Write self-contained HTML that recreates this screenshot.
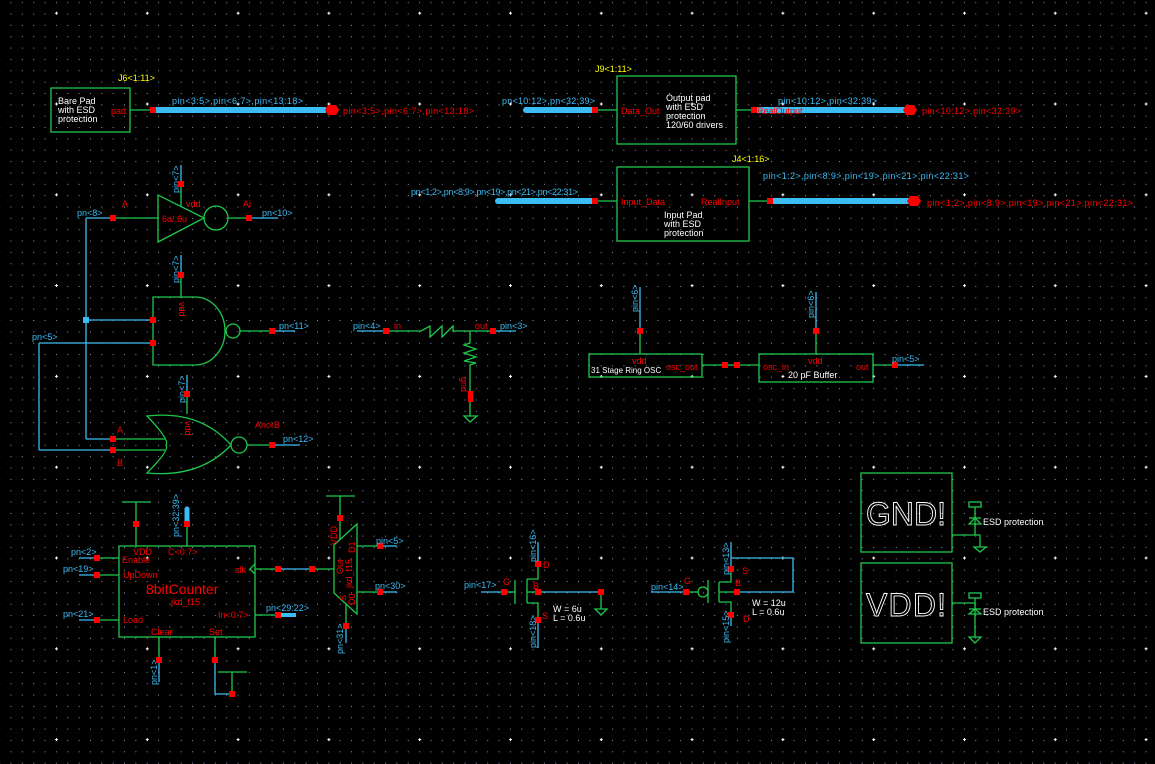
<!DOCTYPE html>
<html><head><meta charset="utf-8"><style>
html,body{margin:0;padding:0;background:#000;}
svg{display:block;}
text{font-family:"Liberation Sans",sans-serif;}
.b{fill:#3cbcf4}.r{fill:#ff0000}.w{fill:#fff}.y{fill:#ffff00}
.g{stroke:#1ec84c;fill:none;stroke-width:1.3}
.bl{stroke:#3cbcf4;fill:none;stroke-width:1.3}
.bus{stroke:#3cbcf4;stroke-width:6;fill:none}
</style></head><body>
<svg width="1155" height="764" viewBox="0 0 1155 764" font-size="9" xmlns="http://www.w3.org/2000/svg">
<defs>
<pattern id="dots" x="10.5" y="2.2" width="11.35" height="11.35" patternUnits="userSpaceOnUse">
<rect x="0" y="0" width="1" height="1" fill="#8a9ab4"/></pattern>
<pattern id="cross" x="55" y="102.5" width="90.8" height="90.8" patternUnits="userSpaceOnUse">
<path d="M0,1.5H3M1.5,0V3" stroke="#fff" stroke-width="1"/></pattern>
</defs>
<rect width="1155" height="764" fill="url(#dots)"/>
<rect width="1155" height="764" fill="url(#cross)"/>

<!-- Bare pad -->
<text class="y" x="118" y="81">J6&lt;1:11&gt;</text>
<rect class="g" x="51" y="88" width="79" height="44"/>
<text class="w" x="58" y="104">Bare Pad</text>
<text class="w" x="58" y="113">with ESD</text>
<text class="w" x="58" y="122">protection</text>
<text class="r" x="111" y="114">pad</text>
<line class="g" x1="130" y1="110" x2="153" y2="110"/>
<line class="bus" x1="155" y1="110" x2="326" y2="110"/>
<rect class="r" x="150" y="107" width="6" height="6"/>
<polygon points="325,110 328,105 336,105 339,110 336,115 328,115" fill="#f00"/>
<text class="b" x="172" y="104" textLength="131">pin&lt;3:5&gt;,pin&lt;6:7&gt;,pin&lt;13:18&gt;</text>
<text class="r" x="343" y="114" textLength="131">pin&lt;3:5&gt;,pin&lt;6:7&gt;,pin&lt;13:18&gt;</text>

<!-- Output pad -->
<text class="y" x="595" y="72">J9&lt;1:11&gt;</text>
<rect class="g" x="617" y="76" width="119" height="68"/>
<text class="w" x="666" y="101">Output pad</text>
<text class="w" x="666" y="110">with ESD</text>
<text class="w" x="666" y="119">protection</text>
<text class="w" x="666" y="128">120/60 drivers</text>
<text class="r" x="621" y="114">Data_Out</text>
<line class="bus" x1="526" y1="110" x2="595" y2="110" stroke-linecap="round"/>
<rect class="r" x="592" y="107" width="6" height="6"/>
<line class="g" x1="598" y1="110" x2="617" y2="110"/>
<text class="b" x="502" y="104" textLength="93">pn&lt;10:12&gt;,pn&lt;32:39&gt;</text>
<line class="g" x1="736" y1="110" x2="753" y2="110"/>
<line class="bus" x1="755" y1="110" x2="905" y2="110"/>
<rect class="r" x="751" y="107" width="6" height="6"/>
<text class="r" x="757" y="114">RealOutput</text>
<polygon points="903,110 906,105 914,105 917,110 914,115 906,115" fill="#f00"/>
<text class="b" x="778" y="104" textLength="99">pin&lt;10:12&gt;,pin&lt;32:39&gt;</text>
<text class="r" x="922" y="114" textLength="99">pin&lt;10:12&gt;,pin&lt;32:39&gt;</text>

<!-- Input pad -->
<text class="y" x="732" y="162">J4&lt;1:16&gt;</text>
<rect class="g" x="617" y="167" width="132" height="74"/>
<text class="r" x="621" y="205">Input_Data</text>
<text class="r" x="701" y="205">RealInput</text>
<text class="w" x="664" y="218">Input Pad</text>
<text class="w" x="664" y="227">with ESD</text>
<text class="w" x="664" y="236">protection</text>
<line class="bus" x1="498" y1="201" x2="595" y2="201" stroke-linecap="round"/>
<rect class="r" x="592" y="198" width="6" height="6"/>
<line class="g" x1="598" y1="201" x2="617" y2="201"/>
<text class="b" x="411" y="195" textLength="167">pn&lt;1:2&gt;,pn&lt;8:9&gt;,pn&lt;19&gt;,pn&lt;21&gt;,pn&lt;22:31&gt;</text>
<line class="g" x1="749" y1="201" x2="768" y2="201"/>
<line class="bus" x1="770" y1="201" x2="909" y2="201"/>
<rect class="r" x="767" y="198" width="6" height="6"/>
<polygon points="907,201 910,196 918,196 921,201 918,206 910,206" fill="#f00"/>
<text class="b" x="763" y="179" textLength="206">pin&lt;1:2&gt;,pin&lt;8:9&gt;,pin&lt;19&gt;,pin&lt;21&gt;,pin&lt;22:31&gt;</text>
<text class="r" x="927" y="206" textLength="206">pin&lt;1:2&gt;,pin&lt;8:9&gt;,pin&lt;19&gt;,pin&lt;21&gt;,pin&lt;22:31&gt;</text>

<!-- Ring osc & buffer -->
<line class="bl" x1="640" y1="287" x2="640" y2="331"/>
<text class="b" transform="translate(638,312) rotate(-90)">pin&lt;6&gt;</text>
<rect class="r" x="637" y="328" width="6" height="6"/>
<line class="g" x1="640" y1="334" x2="640" y2="354"/>
<rect class="g" x="589" y="354" width="113" height="23"/>
<text class="r" x="632" y="364">vdd</text>
<text class="w" x="591" y="373" font-size="8">31 Stage Ring OSC</text>
<text class="r" x="666" y="370">osc_out</text>
<line class="g" x1="702" y1="365" x2="759" y2="365"/>
<rect class="r" x="722" y="362" width="6" height="6"/>
<rect class="r" x="734" y="362" width="6" height="6"/>
<rect class="g" x="759" y="354" width="114" height="28"/>
<line class="bl" x1="816" y1="292" x2="816" y2="331"/>
<text class="b" transform="translate(814,318) rotate(-90)">pin&lt;6&gt;</text>
<rect class="r" x="813" y="328" width="6" height="6"/>
<line class="g" x1="816" y1="334" x2="816" y2="354"/>
<text class="r" x="763" y="370">osc_in</text>
<text class="r" x="808" y="364">vdd</text>
<text class="w" x="788" y="378">20 pF Buffer</text>
<text class="r" x="856" y="370">out</text>
<line class="g" x1="873" y1="365" x2="895" y2="365"/>
<rect class="r" x="892" y="362" width="6" height="6"/>
<line class="bl" x1="898" y1="365" x2="924" y2="365"/>
<text class="b" x="892" y="362">pin&lt;5&gt;</text>

<!-- Inverter -->
<polygon class="g" points="158,195 158,242 204,218"/>
<circle class="g" cx="216" cy="218" r="12"/>
<line class="bl" x1="181" y1="165" x2="181" y2="184"/>
<text class="b" transform="translate(179,193) rotate(-90)">pin&lt;7&gt;</text>
<rect class="r" x="178" y="181" width="6" height="6"/>
<line class="g" x1="181" y1="187" x2="181" y2="206"/>
<text class="r" x="186" y="207">vdd</text>
<text class="r" x="162" y="222">6u/.6u</text>
<text class="r" x="122" y="207">A</text>
<text class="r" x="243" y="207">Ai</text>
<text class="b" x="77" y="216">pn&lt;8&gt;</text>
<line class="bl" x1="86" y1="218" x2="113" y2="218"/>
<rect class="r" x="110" y="215" width="6" height="6"/>
<line class="g" x1="116" y1="218" x2="158" y2="218"/>
<line class="g" x1="228" y1="218" x2="249" y2="218"/>
<rect class="r" x="246" y="215" width="6" height="6"/>
<line class="bl" x1="252" y1="218" x2="278" y2="218"/>
<text class="b" x="262" y="216">pn&lt;10&gt;</text>
<line class="bl" x1="86" y1="218" x2="86" y2="439"/>
<rect x="83" y="317" width="6" height="6" fill="#3cbcf4"/>

<!-- NAND -->
<path class="g" d="M195,297 H153 V365 H195 A30,34 0 0 0 195,297"/>
<circle class="g" cx="233" cy="331" r="7"/>
<line class="g" x1="240" y1="331" x2="272" y2="331"/>
<rect class="r" x="269" y="328" width="6" height="6"/>
<line class="bl" x1="275" y1="331" x2="295" y2="331"/>
<text class="b" x="279" y="329">pn&lt;11&gt;</text>
<line class="bl" x1="86" y1="320" x2="153" y2="320"/>
<rect class="r" x="150" y="317" width="6" height="6"/>
<line class="bl" x1="39" y1="343" x2="153" y2="343"/>
<rect class="r" x="150" y="340" width="6" height="6"/>
<text class="b" x="32" y="340">pn&lt;5&gt;</text>
<line class="bl" x1="39" y1="343" x2="39" y2="450"/>
<line class="bl" x1="181" y1="255" x2="181" y2="275"/>
<text class="b" transform="translate(179,283) rotate(-90)">pin&lt;7&gt;</text>
<rect class="r" x="178" y="272" width="6" height="6"/>
<line class="g" x1="181" y1="278" x2="181" y2="297"/>
<text class="r" transform="translate(179,302) rotate(90)">vdd</text>

<!-- NOR -->
<path class="g" d="M147,416 Q170,440 166,445 Q170,450 147,473 Q200,478 231,445 Q200,410 147,416 Z"/>
<circle class="g" cx="239" cy="445" r="8"/>
<line class="bl" x1="86" y1="439" x2="113" y2="439"/>
<rect class="r" x="110" y="436" width="6" height="6"/>
<line class="g" x1="116" y1="439" x2="165" y2="439"/>
<line class="bl" x1="39" y1="450" x2="113" y2="450"/>
<rect class="r" x="110" y="447" width="6" height="6"/>
<line class="g" x1="116" y1="450" x2="165" y2="450"/>
<text class="r" x="117" y="433">A</text>
<text class="r" x="117" y="466">B</text>
<text class="r" x="255" y="428">AnorB</text>
<line class="g" x1="247" y1="445" x2="272" y2="445"/>
<rect class="r" x="269" y="442" width="6" height="6"/>
<line class="bl" x1="275" y1="445" x2="300" y2="445"/>
<text class="b" x="283" y="442">pn&lt;12&gt;</text>
<line class="bl" x1="187" y1="375" x2="187" y2="394"/>
<text class="b" transform="translate(185,403) rotate(-90)">pin&lt;7&gt;</text>
<rect class="r" x="184" y="391" width="6" height="6"/>
<line class="g" x1="187" y1="397" x2="187" y2="414"/>
<text class="r" transform="translate(185,421) rotate(90)">vdd</text>

<!-- Resistors -->
<text class="b" x="353" y="329">pin&lt;4&gt;</text>
<line class="bl" x1="357" y1="331" x2="386" y2="331"/>
<rect class="r" x="383" y="328" width="6" height="6"/>
<text class="r" x="394" y="329">in</text>
<polyline class="g" points="389,331 421,331 430,326 430,337 442,326 442,337 453,326 453,331 490,331"/>
<rect class="r" x="490" y="328" width="6" height="6"/>
<text class="r" x="475" y="329">out</text>
<line class="bl" x1="496" y1="331" x2="516" y2="331"/>
<text class="b" x="500" y="329">pin&lt;3&gt;</text>
<polyline class="g" points="470,331 470,343 464,345 476,349 464,353 476,357 464,361 476,363 470,365 470,392"/>
<rect class="r" x="468" y="391" width="5" height="11"/>
<line class="g" x1="470" y1="402" x2="470" y2="416"/>
<polygon class="g" points="464,416 477,416 470,422"/>
<text class="r" transform="translate(461,377) rotate(90)">gnd</text>

<!-- Counter -->
<rect class="g" x="119" y="546" width="136" height="91"/>
<polyline class="g" points="122,502 151,502"/>
<line class="g" x1="136" y1="502" x2="136" y2="546"/>
<rect class="r" x="133" y="521" width="6" height="6"/>
<line class="g" x1="187" y1="524" x2="187" y2="546"/>
<line x1="187" y1="509" x2="187" y2="521" stroke="#3cbcf4" stroke-width="5" stroke-linecap="round"/>
<rect class="r" x="184" y="521" width="6" height="6"/>
<text class="b" transform="translate(179,537) rotate(-90)">pn&lt;32:39&gt;</text>
<text class="r" x="133" y="555">VDD</text>
<text class="r" x="168" y="555">C&lt;0:7&gt;</text>
<text class="r" x="122" y="563">Enable</text>
<text class="r" x="123" y="578">UpDown</text>
<text class="r" x="146" y="594" font-size="14">8bitCounter</text>
<text class="r" x="171" y="605">jkd_f15</text>
<text class="r" x="123" y="623">Load</text>
<text class="r" x="218" y="618">In&lt;0:7&gt;</text>
<text class="r" x="235" y="573">clk</text>
<text class="r" x="151" y="635">Clear</text>
<text class="r" x="209" y="635">Set</text>
<polyline class="g" points="255,564 250,569 255,574"/>
<line class="bl" x1="79" y1="558" x2="97" y2="558"/><rect class="r" x="94" y="555" width="6" height="6"/><line class="g" x1="100" y1="558" x2="119" y2="558"/>
<text class="b" x="71" y="555">pn&lt;2&gt;</text>
<line class="bl" x1="79" y1="575" x2="97" y2="575"/><rect class="r" x="94" y="572" width="6" height="6"/><line class="g" x1="100" y1="575" x2="119" y2="575"/>
<text class="b" x="63" y="572">pn&lt;19&gt;</text>
<line class="bl" x1="79" y1="620" x2="97" y2="620"/><rect class="r" x="94" y="617" width="6" height="6"/><line class="g" x1="100" y1="620" x2="119" y2="620"/>
<text class="b" x="63" y="617">pn&lt;21&gt;</text>
<line class="g" x1="255" y1="569" x2="278" y2="569"/>
<rect class="r" x="275" y="566" width="6" height="6"/>
<line class="bl" x1="281" y1="569" x2="312" y2="569"/>
<rect class="r" x="309" y="566" width="6" height="6"/>
<line class="g" x1="315" y1="569" x2="334" y2="569"/>
<line class="g" x1="255" y1="615" x2="278" y2="615"/>
<line x1="280" y1="615" x2="296" y2="615" stroke="#3cbcf4" stroke-width="4"/>
<rect class="r" x="275" y="612" width="6" height="6"/>
<text class="b" x="266" y="611">pn&lt;29:22&gt;</text>
<line class="g" x1="159" y1="637" x2="159" y2="660"/>
<rect class="r" x="156" y="657" width="6" height="6"/>
<line class="bl" x1="159" y1="663" x2="159" y2="682"/>
<text class="b" transform="translate(157,685) rotate(-90)">pn&lt;1&gt;</text>
<line class="g" x1="215" y1="637" x2="215" y2="660"/>
<rect class="r" x="212" y="657" width="6" height="6"/>
<polyline class="bl" points="215,663 215,694 232,694"/>
<rect class="r" x="229" y="691" width="6" height="6"/>
<line class="g" x1="232" y1="672" x2="232" y2="691"/>
<line class="g" x1="218" y1="672" x2="247" y2="672"/>

<!-- Mux -->
<line class="g" x1="326" y1="496" x2="355" y2="496"/>
<line class="g" x1="340" y1="496" x2="340" y2="540"/>
<rect class="r" x="337" y="515" width="6" height="6"/>
<polygon class="g" points="334,545 357,524 357,614 334,593"/>
<text class="r" transform="translate(337,545) rotate(-90)">VDD</text>
<text class="r" transform="translate(343,574) rotate(-90)">Out</text>
<text class="r" transform="translate(352,588) rotate(-90)">jkd_f15</text>
<text class="r" transform="translate(355,553) rotate(-90)">D1</text>
<text class="r" transform="translate(355,605) rotate(-90)">D0</text>
<text class="r" transform="translate(346,601) rotate(-90)">S</text>
<line class="g" x1="357" y1="546" x2="380" y2="546"/><rect class="r" x="377" y="543" width="6" height="6"/><line class="bl" x1="383" y1="546" x2="397" y2="546"/>
<text class="b" x="376" y="544">pin&lt;5&gt;</text>
<line class="g" x1="357" y1="592" x2="380" y2="592"/><rect class="r" x="377" y="589" width="6" height="6"/><line class="bl" x1="383" y1="592" x2="397" y2="592"/>
<text class="b" x="375" y="589">pn&lt;30&gt;</text>
<line class="g" x1="346" y1="603" x2="346" y2="626"/>
<rect class="r" x="343" y="623" width="6" height="6"/>
<line class="bl" x1="346" y1="629" x2="346" y2="643"/>
<text class="b" transform="translate(343,654) rotate(-90)">pn&lt;31&gt;</text>

<!-- NMOS -->
<text class="b" x="464" y="588">pin&lt;17&gt;</text>
<line class="bl" x1="481" y1="592" x2="504" y2="592"/>
<rect class="r" x="501" y="589" width="6" height="6"/>
<line class="g" x1="507" y1="592" x2="515" y2="592"/>
<line class="g" x1="515" y1="580" x2="515" y2="604"/>
<line class="g" x1="527" y1="579" x2="527" y2="603"/>
<text class="r" x="503" y="585">G</text>
<polyline class="g" points="527,579 538,579 538,564"/>
<rect class="r" x="535" y="561" width="6" height="6"/>
<line class="bl" x1="538" y1="542" x2="538" y2="561"/>
<text class="b" transform="translate(536,562) rotate(-90)">pin&lt;16&gt;</text>
<text class="r" x="543" y="568">D</text>
<line class="g" x1="527" y1="592" x2="538" y2="592"/>
<rect class="r" x="535" y="589" width="6" height="6"/>
<text class="r" x="533" y="589">B</text>
<line class="bl" x1="541" y1="592" x2="601" y2="592"/>
<rect class="r" x="598" y="589" width="6" height="6"/>
<line class="g" x1="601" y1="595" x2="601" y2="609"/>
<polygon class="g" points="595,609 607,609 601,615"/>
<polyline class="g" points="527,603 538,603 538,620"/>
<rect class="r" x="535" y="617" width="6" height="6"/>
<line class="bl" x1="538" y1="623" x2="538" y2="648"/>
<text class="b" transform="translate(536,648) rotate(-90)">pin&lt;18&gt;</text>
<text class="r" x="542" y="619">S</text>
<text class="w" x="553" y="612">W = 6u</text>
<text class="w" x="553" y="621">L = 0.6u</text>

<!-- PMOS -->
<text class="b" x="651" y="590">pin&lt;14&gt;</text>
<line class="bl" x1="651" y1="592" x2="686" y2="592"/>
<rect class="r" x="683" y="589" width="6" height="6"/>
<text class="r" x="684" y="584">G</text>
<line class="g" x1="689" y1="592" x2="698" y2="592"/>
<circle class="g" cx="703" cy="592" r="5"/>
<line class="g" x1="708" y1="580" x2="708" y2="603"/>
<line class="g" x1="719" y1="582" x2="719" y2="602"/>
<polyline class="g" points="719,582 731,582 731,569"/>
<rect class="r" x="728" y="566" width="6" height="6"/>
<line class="bl" x1="731" y1="542" x2="731" y2="566"/>
<text class="b" transform="translate(729,575) rotate(-90)">pin&lt;13&gt;</text>
<polyline class="bl" points="731,558 793,558 793,592 740,592"/>
<text class="r" x="742" y="574">S</text>
<line class="g" x1="719" y1="592" x2="737" y2="592"/>
<rect class="r" x="734" y="589" width="6" height="6"/>
<text class="r" x="735" y="586">B</text>
<polyline class="g" points="719,602 731,602 731,615"/>
<rect class="r" x="728" y="612" width="6" height="6"/>
<line class="bl" x1="731" y1="618" x2="731" y2="626"/>
<text class="b" transform="translate(729,643) rotate(-90)">pin&lt;15&gt;</text>
<text class="r" x="743" y="622">D</text>
<text class="w" x="752" y="606">W = 12u</text>
<text class="w" x="752" y="615">L = 0.6u</text>

<!-- GND / VDD -->
<rect class="g" x="861" y="473" width="91" height="79"/>
<text x="866" y="525" font-size="32" fill="none" stroke="#fff" stroke-width="0.9" textLength="80">GND!</text>
<rect class="g" x="969" y="502" width="12" height="5"/>
<line class="g" x1="975" y1="507" x2="975" y2="535"/>
<polygon class="g" points="969,524 981,524 975,518"/>
<line class="g" x1="969" y1="518" x2="981" y2="518"/>
<polyline class="g" points="952,535 980,535 980,547"/>
<polygon class="g" points="974,547 986,547 980,552"/>
<text class="w" x="983" y="525">ESD protection</text>
<rect class="g" x="861" y="563" width="91" height="80"/>
<text x="866" y="616" font-size="32" fill="none" stroke="#fff" stroke-width="0.9" textLength="80">VDD!</text>
<rect class="g" x="969" y="593" width="12" height="5"/>
<line class="g" x1="975" y1="598" x2="975" y2="637"/>
<polygon class="g" points="969,614 981,614 975,609"/>
<line class="g" x1="969" y1="609" x2="981" y2="609"/>
<line class="g" x1="952" y1="603" x2="975" y2="603"/>
<polygon class="g" points="969,637 981,637 975,643"/>
<text class="w" x="983" y="615">ESD protection</text>
</svg>
</body></html>
